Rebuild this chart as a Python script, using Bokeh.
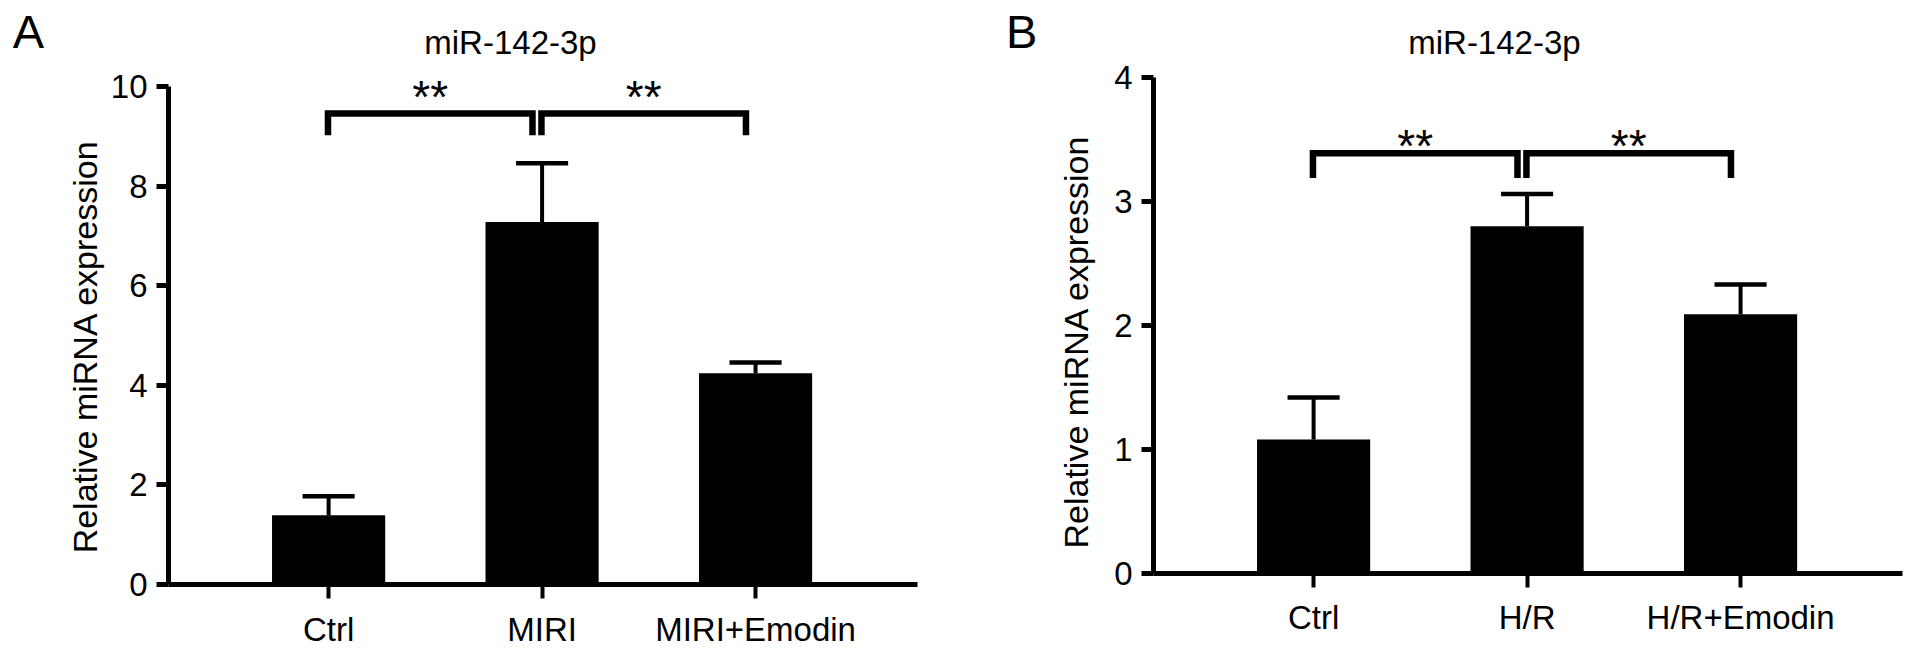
import numpy as np
from bokeh.plotting import figure
from bokeh.layouts import row
from bokeh.models import Range1d, FixedTicker, Label, LinearAxis
from bokeh.core.properties import value
from bokeh.embed import file_html
from bokeh.resources import INLINE

FONT = "Liberation Sans"

# ---------------- data: panel A ----------------
a_categories = ["Ctrl", "MIRI", "MIRI+Emodin"]
a_means = [1.39, 7.28, 4.24]
a_errors = [0.38, 1.18, 0.22]
a_yticks = [0, 2, 4, 6, 8, 10]
a_comparisons = [(0, 1), (1, 2)]
a_bracket_top = [9.46, 9.46]
a_bracket_leg = [9.02, 9.02]
a_star_y = [10.0, 10.0]
a_stars = ["**", "**"]

# ---------------- data: panel B ----------------
b_categories = ["Ctrl", "H/R", "H/R+Emodin"]
b_means = [1.08, 2.80, 2.09]
b_errors = [0.34, 0.26, 0.24]
b_yticks = [0, 1, 2, 3, 4]
b_comparisons = [(0, 1), (1, 2)]
b_bracket_top = [3.39, 3.39]
b_bracket_leg = [3.19, 3.19]
b_star_y = [3.53, 3.53]
b_stars = ["**", "**"]

title_text = "miR-142-3p"
ylabel_text = "Relative miRNA expression"


def make_panel(cats, means, errs, yticks, comps, btop, bleg, stary, stars,
               letter, width, x_range, y_range, letter_xy, title_xy, ylabel_xy):
    xs = [i + 1 for i in range(len(cats))]
    p = figure(width=width, height=650,
               x_range=Range1d(*x_range), y_range=Range1d(*y_range),
               x_axis_type=None, y_axis_type=None,
               output_backend="svg", toolbar_location=None, min_border=0)
    p.grid.visible = False
    p.outline_line_color = None
    p.background_fill_color = "white"
    p.border_fill_color = "white"

    # bars
    p.vbar(x=xs, top=means, width=0.53, fill_color="black", line_color=None)
    # error bars (upper only)
    tops = [m + e for m, e in zip(means, errs)]
    p.segment(x0=xs, y0=means, x1=xs, y1=tops, line_width=4, line_color="black")
    p.segment(x0=[x - 0.122 for x in xs], y0=tops,
              x1=[x + 0.122 for x in xs], y1=tops,
              line_width=4.5, line_color="black")

    # significance brackets
    bxs, bys, sx = [], [], []
    for (i, j), t, l in zip(comps, btop, bleg):
        x1 = xs[i] - 0.003
        x2 = xs[j] - 0.045
        bxs.append([x1, x1, x2, x2])
        bys.append([l, t, t, l])
        sx.append((x1 + x2) / 2)
    p.multi_line(xs=bxs, ys=bys, line_width=6.5, line_color="black",
                 line_join="miter")
    p.text(x=sx, y=stary, text=stars, text_font=value(FONT),
           text_font_size="46px", text_align="center",
           text_baseline="middle", y_offset=10, text_color="black")

    # axes, fixed at the data origin
    ya = LinearAxis(fixed_location=0.25)
    ya.ticker = FixedTicker(ticks=yticks)
    ya.bounds = (0, yticks[-1])
    ya.axis_line_width = 5
    ya.axis_line_color = "black"
    ya.major_tick_line_width = 5
    ya.major_tick_out = 12
    ya.major_tick_in = 0
    ya.minor_tick_out = 0
    ya.minor_tick_in = 0
    ya.major_label_text_font = FONT
    ya.major_label_text_font_size = "33px"
    ya.major_label_text_color = "black"
    ya.major_label_standoff = 9
    p.add_layout(ya, "left")

    xa = LinearAxis(fixed_location=0)
    xa.ticker = FixedTicker(ticks=xs)
    xa.bounds = (0.25, 3.76)
    xa.major_label_overrides = {x: c for x, c in zip(xs, cats)}
    xa.axis_line_width = 5
    xa.axis_line_color = "black"
    xa.major_tick_line_width = 4
    xa.major_tick_out = 14
    xa.major_tick_in = 0
    xa.minor_tick_out = 0
    xa.minor_tick_in = 0
    xa.major_label_text_font = FONT
    xa.major_label_text_font_size = "33px"
    xa.major_label_text_color = "black"
    xa.major_label_standoff = 12
    p.add_layout(xa, "below")

    # texts
    p.add_layout(Label(x=letter_xy[0], y=letter_xy[1], text=letter,
                       text_font=FONT, text_font_size="47px",
                       text_align="center", text_baseline="middle",
                       text_color="black"))
    p.add_layout(Label(x=title_xy[0], y=title_xy[1], text=title_text,
                       text_font=FONT, text_font_size="33px",
                       text_align="center", text_baseline="middle",
                       text_color="black"))
    p.add_layout(Label(x=ylabel_xy[0], y=ylabel_xy[1], text=ylabel_text,
                       text_font=FONT, text_font_size="34px",
                       angle=np.pi / 2, text_align="center",
                       text_baseline="middle", text_color="black"))
    return p


pA = make_panel(a_categories, a_means, a_errors, a_yticks, a_comparisons,
                a_bracket_top, a_bracket_leg, a_star_y, a_stars, "A",
                width=960, x_range=(-0.537, 3.960), y_range=(-1.325, 11.727),
                letter_xy=(-0.406, 11.11), title_xy=(1.852, 10.88),
                ylabel_xy=(-0.139, 4.78))

pB = make_panel(b_categories, b_means, b_errors, b_yticks, b_comparisons,
                b_bracket_top, b_bracket_leg, b_star_y, b_stars, "B",
                width=950, x_range=(-0.654, 3.796), y_range=(-0.621, 4.621),
                letter_xy=(-0.368, 4.375), title_xy=(1.847, 4.282),
                ylabel_xy=(-0.115, 1.87))

layout = row(pA, pB)
open("out.html", "w").write(file_html(layout, INLINE))
